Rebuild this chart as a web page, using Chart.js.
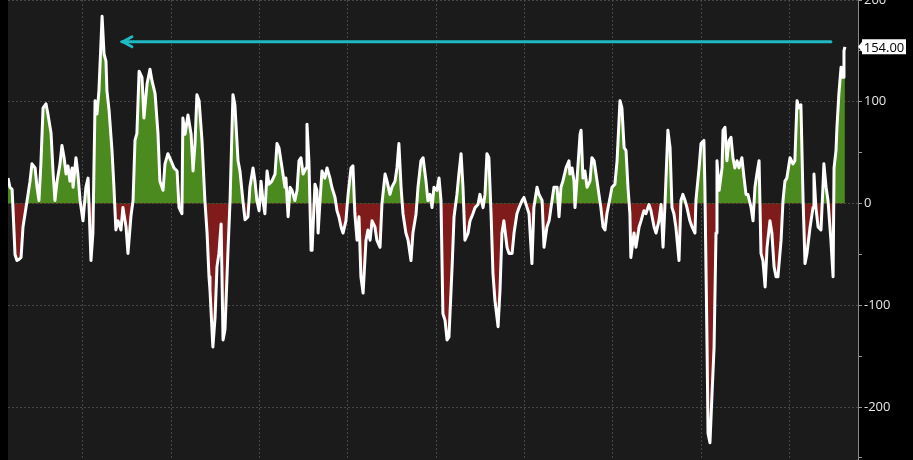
<!DOCTYPE html>
<html>
<head>
<meta charset="utf-8">
<script src="https://cdn.jsdelivr.net/npm/chart.js@4.4.1/dist/chart.umd.min.js"></script>
<style>
  html, body { margin: 0; padding: 0; background: #000; }
  #wrap { width: 913px; height: 460px; }
</style>
</head>
<body>
<div id="wrap"><canvas id="myChart" width="913" height="460"></canvas></div>
<script>
// days since start of the series
const days = [0, 8, 17, 21, 29, 37, 45, 54, 62, 79, 91, 99, 112, 120, 128, 136, 145, 157, 165, 178,
  186, 194, 203, 215, 223, 232, 240, 248, 256, 265, 269, 281, 289, 298, 310, 322, 331, 343, 351, 360,
  368, 376, 389, 397, 405, 409, 418, 430, 438, 446, 455, 467, 475, 488, 496, 508, 517, 525, 533, 542,
  554, 562, 575, 587, 595, 608, 620, 628, 641, 649, 661, 674, 686, 699, 707, 719, 723, 732, 744, 757,
  765, 773, 781, 790, 802, 814, 823, 831, 835, 847, 856, 864, 872, 881, 889, 897, 909, 918, 930, 938,
  951, 959, 971, 980, 992, 1000, 1013, 1021, 1029, 1038, 1046, 1054, 1062, 1071, 1079, 1091, 1104, 1112, 1120, 1133,
  1145, 1149, 1158, 1166, 1174, 1186, 1195, 1203, 1211, 1220, 1232, 1236, 1244, 1253, 1257, 1269, 1277, 1282, 1290, 1298,
  1310, 1319, 1331, 1339, 1352, 1360, 1368, 1377, 1385, 1397, 1406, 1418, 1426, 1434, 1443, 1451, 1459, 1468, 1480, 1488,
  1497, 1505, 1517, 1525, 1538, 1546, 1559, 1567, 1579, 1587, 1600, 1608, 1616, 1625, 1633, 1645, 1654, 1666, 1674, 1687,
  1695, 1707, 1716, 1728, 1736, 1745, 1753, 1761, 1773, 1782, 1790, 1798, 1807, 1815, 1823, 1836, 1844, 1856, 1864, 1873,
  1881, 1889, 1902, 1910, 1922, 1931, 1943, 1951, 1964, 1972, 1980, 1988, 1997, 2005, 2013, 2026, 2034, 2042, 2050, 2063,
  2071, 2084, 2092, 2104, 2113, 2125, 2133, 2146, 2154, 2166, 2174, 2187, 2195, 2208, 2216, 2228, 2237, 2249, 2257, 2270,
  2278, 2286, 2294, 2307, 2319, 2323, 2332, 2340, 2344, 2352, 2365, 2369, 2377, 2385, 2394, 2406, 2414, 2423, 2431, 2443,
  2451, 2460, 2468, 2476, 2489, 2497, 2509, 2518, 2530, 2538, 2547, 2555, 2563, 2571, 2575, 2588, 2596, 2609, 2617, 2629,
  2637, 2650, 2658, 2671, 2679, 2691, 2700, 2708, 2716, 2728, 2737, 2745, 2753, 2761, 2774, 2782, 2790, 2799, 2807, 2819,
  2828, 2840, 2844, 2857, 2865, 2877, 2881, 2890, 2894, 2902, 2910, 2919, 2927, 2931, 2940, 2952, 2956, 2964, 2972, 2981,
  2989, 2997, 3005, 3014, 3022, 3034, 3043, 3051, 3059, 3072, 3080, 3088, 3096, 3105, 3113, 3121, 3130, 3138, 3150, 3158,
  3167, 3175, 3183, 3196, 3204, 3212, 3220, 3233, 3245, 3253, 3262, 3270, 3278, 3287, 3295, 3303, 3316, 3328, 3332, 3340,
  3349, 3361, 3369, 3373, 3382, 3390, 3402, 3411, 3415, 3423, 3427, 3435, 3444, 3452, 3456, 3460];

const spread = [25, 16, 14, -7, -50, -56, -55, -53, -23, 3, 22, 39, 35, 16, 3, 39, 94, 98, 88, 69,
  32, 3, 22, 39, 57, 45, 29, 37, 22, 35, 16, 45, 29, 3, -17, 16, 25, -56, -29, 101,
  88, 111, 184, 147, 140, 111, 91, 52, 16, -26, -17, -26, -4, -23, -49, -13, 3, 62, 69, 130,
  124, 84, 118, 132, 121, 108, 69, 22, 13, 39, 49, 42, 35, 32, -4, -10, 84, 68, 87, 68,
  32, 58, 107, 101, 62, 3, -29, -72, -85, -141, -112, -62, -49, -20, -134, -124, -49, 3, 107, 97,
  42, 32, 3, -16, -13, 16, 35, 22, 3, -7, 22, 3, -10, 32, 19, 22, 29, 59, 55, 35,
  16, 25, -13, 16, 13, 3, 13, 42, 45, 29, 35, 78, 42, -46, -46, 19, 13, -29, 3, 32,
  25, 35, 25, 16, 6, -7, -13, -23, -29, -17, 9, 35, 37, -10, -36, -13, -72, -88, -36, -26,
  -36, -17, -23, -36, -43, 0, 29, 22, 9, 16, 22, 35, 59, 16, -10, -29, -36, -56, -29, -10,
  16, 42, 45, 22, 3, 9, -4, 16, 13, 25, 3, -108, -115, -134, -131, -62, -13, 9, 29, 49,
  16, -36, -29, -17, -10, -4, -1, 9, -4, 9, 49, 45, -10, -69, -95, -121, -85, -29, -17, -43,
  -49, -49, -29, -10, -4, 3, 6, -4, -10, -59, -4, 16, 9, 3, -43, -23, -17, 3, 16, 16,
  -13, 16, 22, 35, 42, 29, 35, 22, -4, 22, 68, 72, 25, 32, 16, 22, 45, 42, 29, 9,
  -4, -23, -26, -10, 6, 16, 19, 42, 101, 94, 55, 52, 16, -10, -53, -29, -43, -23, -17, -7,
  -10, -1, -7, -23, -29, -17, -1, -43, -1, 72, 55, -4, -10, -23, -56, 3, 9, 3, -4, -17,
  -23, -29, 3, 35, 59, 62, 16, -140, -226, -235, -190, -141, -29, 42, 13, 35, 72, 75, 42, 62,
  65, 45, 35, 42, 35, 45, 25, 9, 9, -4, -17, 16, 29, 42, -49, -56, -82, -43, -17, -29,
  -62, -72, -72, -36, 3, 22, 25, 45, 39, 42, 101, 94, 97, 3, -59, -49, -23, -4, 29, -4,
  -23, -26, 16, 39, 16, 3, -36, -72, 35, 52, 75, 108, 134, 124, 150, 154];

// year boundaries (days since start) used for the vertical grid
const yearStartDays = [310, 675, 1040, 1405, 1770, 2135, 2500, 2865, 3230];
const lastDay = 3514;

// y axis ticks: labelled every 100, small marks every 50
const yTickValues = [-250, -200, -150, -100, -50, 0, 50, 100, 150, 200];
const yMin = -252;
const yMax = 200;

// previous-high marker: arrow drawn from the latest date back to the old peak
const arrowLevel = 159;
const arrowFromDay = 3402;
const arrowToDay = 471;

const bgPlugin = {
  id: 'plotBg',
  beforeDraw(chart) {
    const { ctx, chartArea } = chart;
    ctx.save();
    ctx.fillStyle = '#000';
    ctx.fillRect(0, 0, chart.width, chart.height);
    ctx.fillStyle = '#1b1b1b';
    ctx.fillRect(chartArea.left, chartArea.top, chartArea.right - chartArea.left, chartArea.bottom - chartArea.top);
    ctx.restore();
  }
};

const arrowPlugin = {
  id: 'arrow',
  afterDatasetsDraw(chart) {
    const { ctx } = chart;
    const xs = chart.scales.x;
    const ys = chart.scales.y;
    const y = ys.getPixelForValue(arrowLevel);
    const x1 = xs.getPixelForValue(arrowFromDay);
    const x2 = xs.getPixelForValue(arrowToDay);
    ctx.save();
    ctx.strokeStyle = '#1fb9c4';
    ctx.lineWidth = 3;
    ctx.lineCap = 'round';
    ctx.beginPath();
    ctx.moveTo(x1, y);
    ctx.lineTo(x2, y);
    ctx.stroke();
    ctx.beginPath();
    ctx.moveTo(x2 + 10, y - 5);
    ctx.lineTo(x2 + 1, y);
    ctx.lineTo(x2 + 10, y + 5);
    ctx.stroke();
    ctx.restore();
  }
};

const lastLabelPlugin = {
  id: 'lastLabel',
  afterDraw(chart) {
    const { ctx, chartArea } = chart;
    const last = spread[spread.length - 1];
    const y = chart.scales.y.getPixelForValue(last);
    const left = chartArea.right + 4;
    const w = 44;
    const h = 15;
    ctx.save();
    ctx.fillStyle = '#fff';
    ctx.beginPath();
    ctx.moveTo(chartArea.right, y);
    ctx.lineTo(left, y - 5);
    ctx.lineTo(left, y - h / 2);
    ctx.lineTo(left + w, y - h / 2);
    ctx.lineTo(left + w, y + h / 2);
    ctx.lineTo(left, y + h / 2);
    ctx.lineTo(left, y + 5);
    ctx.closePath();
    ctx.fill();
    ctx.fillStyle = '#000';
    ctx.font = '13px "Open Sans"';
    ctx.textAlign = 'center';
    ctx.textBaseline = 'middle';
    ctx.fillText(last.toFixed(2), left + w / 2, y + 1);
    ctx.restore();
  }
};

const points = days.map((d, i) => ({ x: d, y: spread[i] }));

new Chart(document.getElementById('myChart'), {
  type: 'line',
  data: {
    datasets: [{
      data: points,
      borderColor: '#ffffff',
      borderWidth: 3,
      borderJoinStyle: 'round',
      pointRadius: 0,
      tension: 0,
      fill: {
        target: 'origin',
        above: '#4b8a1f',
        below: '#7f1b1b'
      }
    }]
  },
  options: {
    responsive: false,
    animation: false,
    devicePixelRatio: 1,
    layout: { padding: { left: 8, top: 0, right: 0, bottom: 0 } },
    plugins: {
      legend: { display: false },
      tooltip: { enabled: false }
    },
    scales: {
      x: {
        type: 'linear',
        min: 0,
        max: lastDay,
        afterBuildTicks: (scale) => {
          scale.ticks = yearStartDays.map((v) => ({ value: v }));
        },
        afterFit: (scale) => {
          scale.height = 0;
          scale.paddingLeft = 0;
          scale.paddingRight = 0;
        },
        ticks: { display: false },
        grid: { color: '#474747', drawTicks: false, lineWidth: 1 },
        border: { display: false, dash: [2, 2] }
      },
      y: {
        position: 'right',
        min: yMin,
        max: yMax,
        afterBuildTicks: (scale) => {
          scale.ticks = yTickValues.map((v) => ({ value: v }));
        },
        afterFit: (scale) => {
          scale.width = 55;
          scale.paddingTop = 0;
          scale.paddingBottom = 0;
        },
        ticks: {
          autoSkip: false,
          padding: 2,
          color: '#e6e6e6',
          font: { family: 'Open Sans', size: 13 },
          callback: (v) => (v % 100 === 0 ? String(v) : '')
        },
        grid: {
          color: (c) => (c.tick && c.tick.value % 100 === 0 ? '#474747' : 'rgba(0,0,0,0)'),
          tickColor: '#9a9a9a',
          tickLength: 4,
          tickBorderDash: [],
          drawTicks: true
        },
        border: { display: true, color: '#8a8a8a', width: 1, dash: [2, 2] }
      }
    }
  },
  plugins: [bgPlugin, arrowPlugin, lastLabelPlugin]
});
</script>
</body>
</html>
